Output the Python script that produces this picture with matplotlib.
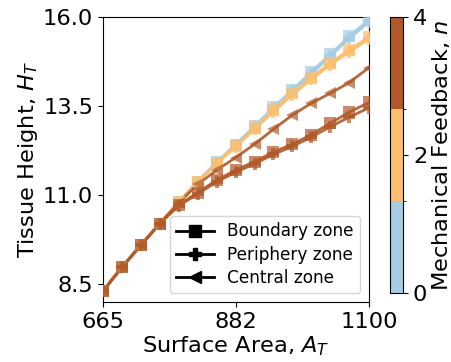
import matplotlib
matplotlib.use("Agg")
import matplotlib.pyplot as plt
from matplotlib.colors import ListedColormap, BoundaryNorm
from matplotlib.lines import Line2D

# Surface area samples (shared by every run)
area = [665, 696, 727, 758, 789, 820, 851, 882, 913, 944, 975, 1006, 1037, 1068, 1100]

# Mechanical feedback strengths and their colours
feedback_n = [0, 2, 4]
feedback_colors = ["#a6cee3", "#fdbf6f", "#b15928"]

# Tissue height per zone, for n = 0
h_boundary_n0 = [8.30, 8.97, 9.59, 10.20, 10.80, 11.38, 11.92, 12.42, 12.93, 13.46, 13.96, 14.46, 14.96, 15.46, 15.92]
h_periphery_n0 = [8.30, 8.97, 9.59, 10.20, 10.80, 11.37, 11.90, 12.40, 12.90, 13.42, 13.92, 14.40, 14.90, 15.40, 15.86]
h_central_n0 = [8.30, 8.97, 9.59, 10.20, 10.80, 11.38, 11.91, 12.41, 12.91, 13.44, 13.94, 14.43, 14.93, 15.43, 15.89]

# Tissue height per zone, for n = 2
h_boundary_n2 = [8.30, 8.97, 9.59, 10.20, 10.80, 11.38, 11.90, 12.38, 12.88, 13.38, 13.86, 14.30, 14.72, 15.08, 15.44]
h_periphery_n2 = [8.30, 8.97, 9.59, 10.20, 10.80, 11.37, 11.88, 12.36, 12.85, 13.34, 13.82, 14.25, 14.66, 15.02, 15.38]
h_central_n2 = [8.30, 8.97, 9.59, 10.20, 10.80, 11.38, 11.89, 12.37, 12.86, 13.36, 13.84, 14.27, 14.69, 15.05, 15.41]

# Tissue height per zone, for n = 4
h_boundary_n4 = [8.30, 8.97, 9.59, 10.20, 10.72, 11.07, 11.42, 11.70, 11.94, 12.21, 12.43, 12.70, 13.02, 13.33, 13.60]
h_periphery_n4 = [8.30, 8.97, 9.59, 10.20, 10.70, 11.03, 11.37, 11.64, 11.88, 12.14, 12.37, 12.63, 12.92, 13.19, 13.45]
h_central_n4 = [8.30, 8.97, 9.59, 10.20, 10.78, 11.30, 11.70, 12.05, 12.43, 12.85, 13.25, 13.58, 13.86, 14.16, 14.58]

heights = {
    0: [h_boundary_n0, h_periphery_n0, h_central_n0],
    2: [h_boundary_n2, h_periphery_n2, h_central_n2],
    4: [h_boundary_n4, h_periphery_n4, h_central_n4],
}

zone_labels = ["Boundary zone", "Periphery zone", "Central zone"]
zone_markers = ["s", "P", "<"]

x_ticks = [665, 882, 1100]
y_ticks = [8.5, 11.0, 13.5, 16.0]
cbar_ticks = [0, 2, 4]

FS = 16.2

fig = plt.figure(figsize=(4.51, 3.62), dpi=100)
ax = fig.add_axes([0.228, 0.166, 0.590, 0.787])

for n, color in zip(feedback_n, feedback_colors):
    for h, marker in zip(heights[n], zone_markers):
        ax.plot(area, h, color=color, lw=2, alpha=0.9, zorder=2)
        ax.plot(area, h, linestyle="none", marker=marker, ms=9,
                color=color, alpha=0.7, markeredgewidth=0, zorder=3)

ax.set_xlim(665, 1100)
ax.set_ylim(8.0, 16.0)
ax.set_xticks(x_ticks)
ax.set_xticklabels([str(v) for v in x_ticks])
ax.set_yticks(y_ticks)
ax.set_yticklabels([f"{v:.1f}" for v in y_ticks])
ax.tick_params(labelsize=FS)
ax.set_xlabel("Surface Area, $A_T$", fontsize=FS, labelpad=2)
ax.set_ylabel("Tissue Height, $H_T$", fontsize=FS, labelpad=2)

handles = [Line2D([0], [0], color="black", marker=m, ms=9, lw=2)
           for m in zone_markers]
ax.legend(handles, zone_labels, loc="lower right", fontsize=12.2,
          handlelength=2.2, labelspacing=0.3, borderpad=0.4)

# Discrete colour bar for the feedback strength
cmap = ListedColormap(feedback_colors)
bounds = [0, 4 / 3, 8 / 3, 4]
norm = BoundaryNorm(bounds, cmap.N)
cax = fig.add_axes([0.865, 0.191, 0.029, 0.762])
sm = plt.cm.ScalarMappable(cmap=cmap, norm=norm)
cb = fig.colorbar(sm, cax=cax, ticks=cbar_ticks)
cb.ax.set_yticklabels([str(t) for t in cbar_ticks])
cb.ax.tick_params(labelsize=FS)
cb.set_label("Mechanical Feedback, $n$", fontsize=FS, labelpad=2)

fig.savefig("out.png", dpi=100)
